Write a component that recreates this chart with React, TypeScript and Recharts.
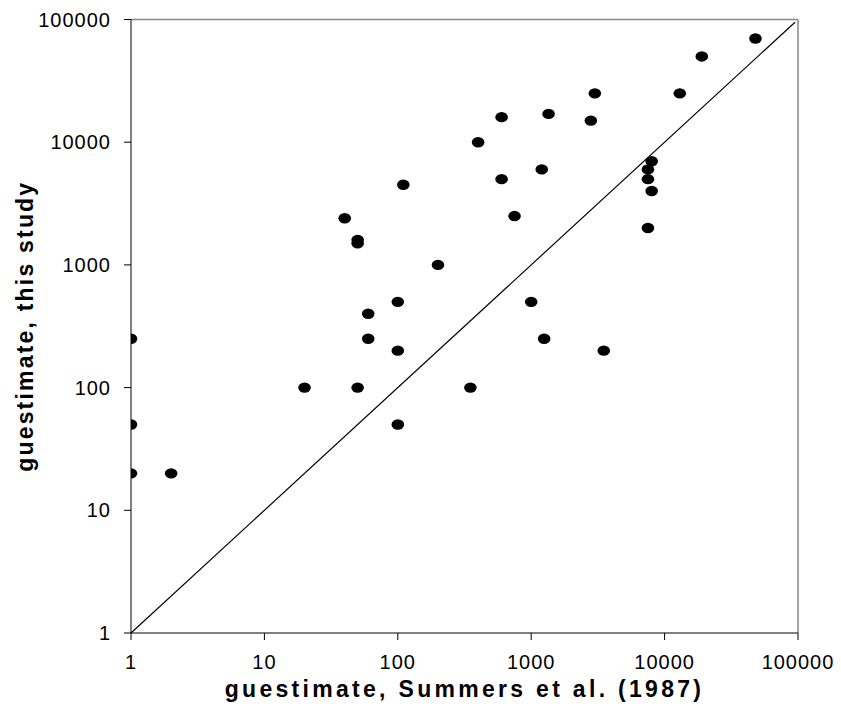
import {
  ScatterChart,
  Scatter,
  XAxis,
  YAxis,
  ReferenceLine,
  Label,
} from "recharts";

// guestimates per taxon: Summers et al. (1987) vs. this study
const summersEstimate = [
  1, 1, 1, 2, 20, 40, 50, 50, 50, 60, 60, 100, 100, 100, 110, 200, 350, 400,
  600, 600, 750, 1000, 1200, 1250, 1350, 2800, 3000, 3500, 7500, 7500, 8000,
  8000, 7500, 13000, 19000, 48000,
];
const thisStudyEstimate = [
  250, 50, 20, 20, 100, 2400, 1600, 1500, 100, 400, 250, 500, 200, 50, 4500,
  1000, 100, 10000, 16000, 5000, 2500, 500, 6000, 250, 17000, 15000, 25000,
  200, 6000, 5000, 7000, 4000, 2000, 25000, 50000, 70000,
];
const logTicks = [1, 10, 100, 1000, 10000, 100000];
const oneToOne = [1, 95000];

const points = summersEstimate.map((x, i) => ({ x, y: thisStudyEstimate[i] }));

const FONT = '"Liberation Sans", Arial, sans-serif';

const Dot = (props: any) => (
  <ellipse cx={props.cx} cy={props.cy} rx={6.3} ry={5.2} fill="#000" />
);

export default function App() {
  return (
    <ScatterChart
      width={833}
      height={701}
      margin={{ top: 11.5, right: 43, left: 0, bottom: 0 }}
      style={{ fontFamily: FONT }}
    >
      <XAxis
        type="number"
        dataKey="x"
        scale="log"
        domain={[1, 100000]}
        ticks={logTicks}
        allowDataOverflow
        height={76}
        tickSize={7}
        tickMargin={15}
        axisLine={{ stroke: "#000" }}
        tickLine={{ stroke: "#000" }}
        tick={{ fill: "#000", fontSize: 20, letterSpacing: 1, fontFamily: FONT }}
      >
        <Label
          content={(p: any) => {
            const vb = p.viewBox;
            return (
              <text
                x={vb.x + vb.width / 2}
                y={689}
                textAnchor="middle"
                fontSize={23}
                fontWeight="bold"
                letterSpacing={3.3}
                fontFamily={FONT}
                fill="#000"
              >
                guestimate, Summers et al. (1987)
              </text>
            );
          }}
        />
      </XAxis>
      <YAxis
        type="number"
        dataKey="y"
        scale="log"
        domain={[1, 100000]}
        ticks={logTicks}
        allowDataOverflow
        width={123}
        tickSize={7}
        tickMargin={13}
        axisLine={{ stroke: "#000" }}
        tickLine={{ stroke: "#000" }}
        tick={{ fill: "#000", fontSize: 20, letterSpacing: 1, fontFamily: FONT }}
      >
        <Label
          content={(p: any) => {
            const vb = p.viewBox;
            const cy = vb.y + vb.height / 2;
            return (
              <text
                x={24.5}
                y={cy}
                transform={`rotate(-90 24.5 ${cy})`}
                textAnchor="middle"
                fontSize={23}
                fontWeight="bold"
                letterSpacing={2.2}
                fontFamily={FONT}
                fill="#000"
              >
                guestimate, this study
              </text>
            );
          }}
        />
      </YAxis>
      <ReferenceLine y={100000} stroke="#888" strokeWidth={1.5} />
      <ReferenceLine x={100000} stroke="#888" strokeWidth={1.5} />
      <ReferenceLine
        segment={[
          { x: oneToOne[0], y: oneToOne[0] },
          { x: oneToOne[1], y: oneToOne[1] },
        ]}
        stroke="#000"
        strokeWidth={1.2}
      />
      <Scatter data={points} shape={Dot} isAnimationActive={false} />
    </ScatterChart>
  );
}
